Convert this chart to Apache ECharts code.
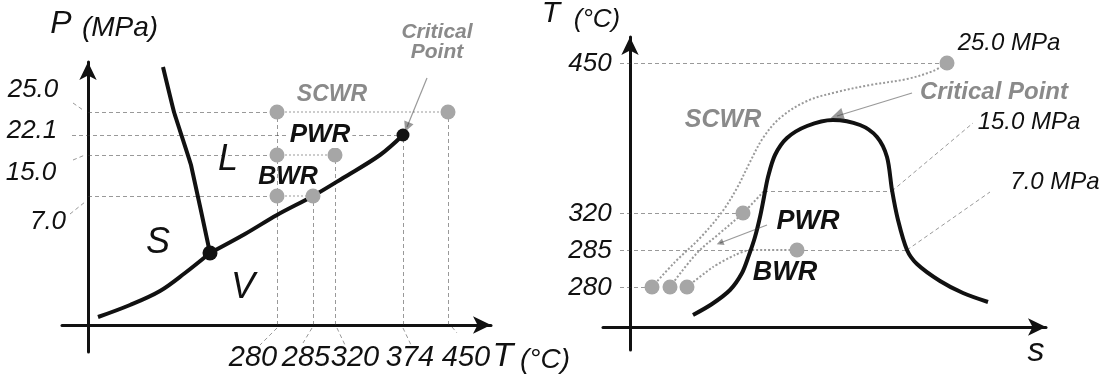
<!DOCTYPE html>
<html>
<head>
<meta charset="utf-8">
<script src="https://cdn.jsdelivr.net/npm/echarts@6/dist/echarts.min.js"></script>
<style>
  html, body { margin: 0; background: #fff; }
  #chart { width: 1114px; height: 378px; }
</style>
</head>
<body>
<div id="chart"></div>
<script>
// Both panels are schematic (not to scale): values are diagram units with the
// axes crossing at (0, 0), ticks sit where the original figure puts them.

// ---- left panel: P-T phase diagram ----
const tempTicks = ['280', '285', '320', '374', '450'];
const tempTickX = [189, 225, 247, 315, 360];
const pressTicks = ['25.0', '22.1', '15.0', '7.0'];
const pressTickY = [213, 190, 170, 129];

const meltingLine = [[122, 72], [103, 160], [86, 213], [75, 258]];
const sublimationLine = [[10, 8], [42, 20], [72, 34], [97, 52], [122, 72]];
const boilingLine = [[122, 72], [157, 91], [189, 110], [225, 129], [255, 147], [292, 170], [315, 190]];

const reactors = ['SCWR', 'PWR', 'BWR'];
const reactorPress = ['25.0', '15.0', '7.0'];
const reactorInlet = '280';
const reactorOutlet = ['450', '320', '285'];
const criticalT = '374';
const criticalP = '22.1';

// ---- right panel: T-s diagram ----
const tsTicks = ['450', '320', '285', '280'];
const tsTickY = [264, 114, 77, 40];

const dome = [[63, 12], [82, 23], [100, 37], [112, 54], [119, 72], [125, 90], [130, 110], [134, 130],
  [138, 150], [145, 172], [157, 189], [177, 201], [203, 207], [230, 202], [247, 190], [257, 170],
  [262, 137], [268, 107], [277, 77], [287, 63], [310, 46], [333, 34], [358, 25]];
const isobar250 = [[22, 40], [45, 65], [70, 89], [92, 115], [107, 139], [120, 165], [133, 189],
  [150, 209], [177, 226], [207, 235], [240, 242], [277, 248], [303, 256], [317, 264]];
const isobar150 = [[40, 40], [67, 74], [90, 94], [113, 114], [134, 136]];
const isobar70 = [[57, 40], [83, 60], [105, 72], [120, 77], [167, 77]];
const isobarLabels = ['25.0 MPa', '15.0 MPa', '7.0 MPa'];

const ink = '#111';
const grey = '#8a8a8a';
const font = '"Liberation Sans", Arial, sans-serif';

const tx = t => tempTickX[tempTicks.indexOf(t)];
const py = p => pressTickY[pressTicks.indexOf(p)];
const ty = t => tsTickY[tsTicks.indexOf(t)];

// P-T: reference lines from the axes to each operating point
const ptDashed = [];
pressTicks.forEach(p => {
  if (reactorPress.indexOf(p) >= 0) ptDashed.push([[0, py(p)], [tx(reactorInlet), py(p)]]);
});
ptDashed.push([[-16, py(criticalP)], [tx(criticalT), py(criticalP)]]);
tempTicks.forEach(t => {
  let top = t === criticalT ? py(criticalP) : 0;
  reactorPress.forEach((p, i) => {
    if (t === reactorInlet || t === reactorOutlet[i]) top = Math.max(top, py(p));
  });
  ptDashed.push([[tx(t), 0], [tx(t), top]]);
});
const ptReactorSeg = reactorPress.map((p, i) => [[tx(reactorInlet), py(p)], [tx(reactorOutlet[i]), py(p)]]);
const ptLeaders = [
  [[-15, 222], [-5, 215]], [[-15, 165], [-3, 170]], [[-18, 111], [-3, 123]],
  [[189, -3], [172, -20]], [[224, -3], [215, -18]], [[249, -3], [257, -20]],
  [[315, -3], [324, -22]], [[364, -2], [369, -8]],
];

// T-s reference lines
const domeRightAt = y => dome.filter(d => d[0] > 203).reduce((a, b) => Math.abs(b[1] - y) < Math.abs(a[1] - y) ? b : a);
const tsDashed = [
  [[-10, ty('450')], isobar250[isobar250.length - 1]],
  [[-10, ty('320')], isobar150[3]],
  [[-10, ty('285')], isobar70[3]],
  [isobar70[isobar70.length - 1], domeRightAt(ty('285'))],
  [[-10, ty('280')], isobar250[0]],
  [isobar150[isobar150.length - 1], [domeRightAt(136)[0], 136]],
];
const tsLeaders = [
  [[domeRightAt(136)[0], 136], [343, 204]],
  [domeRightAt(ty('285')), [360, 135]],
];

function notes(list) {
  return list.map(([text, x, y, size, extra]) => ({
    value: [x, y],
    label: Object.assign({ formatter: text, fontSize: size }, extra || {}),
  }));
}
const bold = { fontWeight: 'bold' };
const greyBold = { fontWeight: 'bold', color: grey };

const leftNotes = [
  ['P', -27, 301, 32], ['(MPa)', 32, 297, 28],
  ['25.0', -55, 235, 26], ['22.1', -56, 194, 26], ['15.0', -57, 152, 26], ['7.0', -40, 103, 26],
  ['T', 415, -32, 34], ['(°C)', 457, -35, 28],
  ['L', 140, 165, 36], ['S', 70, 82, 36], ['V', 155, 37, 36],
  ['SCWR', 244, 230, 23, greyBold],
  ['PWR', 232, 190, 26, Object.assign({ backgroundColor: '#fff', padding: [0, 2] }, bold)],
  ['BWR', 200, 148, 25, bold],
  ['Critical', 349, 293, 21, greyBold], ['Point', 349, 273, 21, greyBold],
];
tempTicks.forEach((t, i) => leftNotes.push([t, [165, 218, 267, 322, 378][i], -33, 29]));

const rightNotes = [
  ['T', -79, 313, 30], ['(°C)', -33, 307, 26],
  ['SCWR', 93, 207, 25, greyBold],
  ['PWR', 178, 105, 27, bold], ['BWR', 155, 54, 27, bold],
  ['Critical Point', 364, 235, 24, greyBold],
  [isobarLabels[0], 379, 284, 24], [isobarLabels[1], 399, 205, 24], [isobarLabels[2], 425, 145, 24],
  ['s', 406, -25, 34],
];
tsTicks.forEach(t => rightNotes.push([t, -40, ty(t) - 1, 26]));

const axisBase = {
  type: 'value',
  axisLine: { show: true, onZero: true, symbol: ['none', 'arrow'], symbolSize: [13, 18],
    lineStyle: { color: ink, width: 3 } },
  axisTick: { show: false },
  axisLabel: { show: false },
  splitLine: { show: false },
};

function curve(data, xi, extra) {
  return Object.assign({
    type: 'line', xAxisIndex: xi, yAxisIndex: xi, data, showSymbol: false, silent: true,
    smooth: 0.35, lineStyle: { color: ink, width: 4 }, z: 4,
  }, extra || {});
}
function segs(list, xi, lineStyle, extra) {
  return Object.assign({
    type: 'lines', coordinateSystem: 'cartesian2d', xAxisIndex: xi, yAxisIndex: xi,
    silent: true, clip: false, lineStyle, data: list.map(c => ({ coords: c })), z: 2,
  }, extra || {});
}
function dots(data, xi, size, color) {
  return {
    type: 'scatter', xAxisIndex: xi, yAxisIndex: xi, data, symbolSize: size, silent: true, clip: false,
    itemStyle: { color, opacity: 1 }, z: 6,
  };
}
function text(list, xi) {
  return {
    type: 'scatter', xAxisIndex: xi, yAxisIndex: xi, symbolSize: 0, silent: true, clip: false, z: 10,
    itemStyle: { opacity: 1, color: 'transparent' },
    label: { show: true, position: 'inside', color: ink, opacity: 1, textBorderWidth: 0,
      fontFamily: font, fontStyle: 'italic' },
    data: notes(list),
  };
}

const dashStyle = { color: '#333', width: 1, type: [4, 3] };
const greyDash = { color: '#9a9a9a', width: 2, type: [2, 2] };

const option = {
  backgroundColor: '#fff',
  animation: false,
  grid: [
    { left: 62, top: 62, width: 429, height: 290 },
    { left: 603, top: 37, width: 443, height: 313 },
  ],
  xAxis: [
    Object.assign({ gridIndex: 0, min: -26, max: 403 }, axisBase),
    Object.assign({ gridIndex: 1, min: -27, max: 416 }, axisBase),
  ],
  yAxis: [
    Object.assign({ gridIndex: 0, min: -27, max: 263 }, axisBase),
    Object.assign({ gridIndex: 1, min: -23, max: 290 }, axisBase),
  ],
  series: [
    // left panel
    segs(ptDashed, 0, dashStyle),
    segs(ptLeaders, 0, dashStyle),
    segs(ptReactorSeg, 0, greyDash),
    curve(meltingLine, 0, { smooth: 0.08 }),
    curve(sublimationLine, 0),
    curve(boilingLine, 0),
    segs([[[339, 247], [319, 198]]], 0, { color: '#333', width: 1.2 },
      { symbol: ['none', 'triangle'], symbolSize: 10, z: 5 }),
    dots(reactorPress.flatMap((p, i) => [[tx(reactorInlet), py(p)], [tx(reactorOutlet[i]), py(p)]]), 0, 15, '#a6a6a6'),
    dots([[tx(criticalT), py(criticalP)]], 0, 13, ink),
    dots([boilingLine[0]], 0, 15, ink),
    text(leftNotes, 0),
    // right panel
    segs(tsDashed, 1, dashStyle),
    segs(tsLeaders, 1, dashStyle),
    curve(isobar250, 1, { lineStyle: greyDash, z: 3 }),
    curve(isobar150, 1, { lineStyle: greyDash, z: 3 }),
    curve(isobar70, 1, { lineStyle: greyDash, z: 3, smooth: 0.2 }),
    curve(dome, 1, { smooth: 0.3 }),
    segs([[[282, 234], [207, 211]]], 1, { color: '#333', width: 1.2 },
      { symbol: ['none', 'triangle'], symbolSize: 13, z: 5 }),
    segs([[[137, 102], [90, 84]]], 1, { color: '#333', width: 1.2 },
      { symbol: ['none', 'triangle'], symbolSize: 7, z: 5 }),
    dots([isobar250[0], isobar150[0], isobar70[0], isobar250[isobar250.length - 1],
      isobar150[3], isobar70[isobar70.length - 1]], 1, 15, '#a6a6a6'),
    text(rightNotes, 1),
  ],
};

const chart = echarts.init(document.getElementById('chart'));
chart.setOption(option);
</script>
</body>
</html>
